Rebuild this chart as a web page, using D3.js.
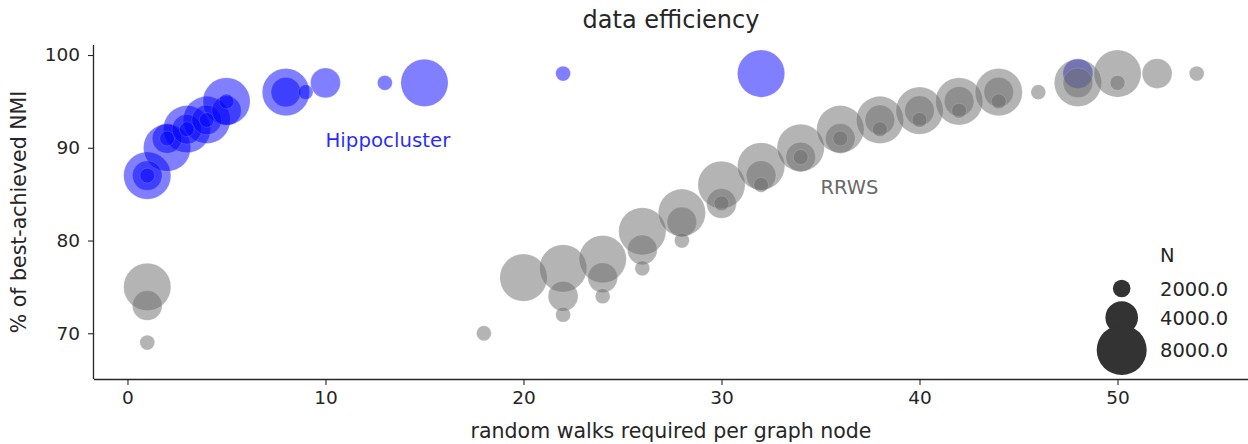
<!DOCTYPE html>
<html>
<head>
<meta charset="utf-8">
<script src="https://cdn.jsdelivr.net/npm/d3@7"></script>
<style>
  html, body { margin: 0; padding: 0; background: #fff; }
  svg { display: block; font-family: "DejaVu Sans", sans-serif; }
</style>
</head>
<body>
<svg id="chart" width="1248" height="444"></svg>
<script>
// ---------- data ----------
const seriesNames = ["Hippocluster", "RRWS"];
const sizeLevels = [2000, 4000, 8000];

// Hippocluster
const hippoX8000 = [1, 2, 3, 4, 5, 8, 15, 32];
const hippoY8000 = [87, 90, 92, 93, 95, 96, 97, 98];
const hippoX4000 = [1, 2, 3, 4, 5, 8, 10, 48];
const hippoY4000 = [87, 91, 92, 93, 94, 96, 97, 98];
const hippoX2000 = [1, 2, 3, 4, 5, 9, 13, 22];
const hippoY2000 = [87, 91, 92, 93, 95, 96, 97, 98];

// RRWS
const rrwsX8000 = [1, 20, 22, 24, 26, 28, 30, 32, 34, 36, 38, 40, 42, 44, 48, 50];
const rrwsY8000 = [75, 76, 77, 78, 81, 83, 86, 88, 90, 92, 93, 94, 95, 96, 97, 98];
const rrwsX4000 = [1, 22, 24, 26, 28, 30, 32, 34, 36, 38, 40, 42, 44, 48, 52];
const rrwsY4000 = [73, 74, 76, 79, 82, 84, 87, 89, 91, 93, 94, 95, 96, 97, 98];
const rrwsX2000 = [1, 18, 22, 24, 26, 28, 30, 32, 34, 36, 38, 40, 42, 44, 46, 50, 54];
const rrwsY2000 = [69, 70, 72, 74, 77, 80, 84, 86, 89, 91, 92, 93, 94, 95, 96, 97, 98];

const xTicks = [0, 10, 20, 30, 40, 50];
const yTicks = [70, 80, 90, 100];

// ---------- build records ----------
function rows(series, n, xs, ys) {
  return xs.map((x, i) => ({ series, n, x, y: ys[i] }));
}
const points = [].concat(
  rows("Hippocluster", 8000, hippoX8000, hippoY8000),
  rows("Hippocluster", 4000, hippoX4000, hippoY4000),
  rows("Hippocluster", 2000, hippoX2000, hippoY2000),
  rows("RRWS", 8000, rrwsX8000, rrwsY8000),
  rows("RRWS", 4000, rrwsX4000, rrwsY4000),
  rows("RRWS", 2000, rrwsX2000, rrwsY2000)
);

// ---------- layout ----------
const L = 94, R = 1248, T = 45, B = 379;
const svg = d3.select("#chart");
const ink = "#262626";

const x = d3.scaleLinear().domain([-1.69, 56.59]).range([L, R]);
const y = d3.scaleLinear().domain([65.07, 101.08]).range([B, T]);

const color = d3.scaleOrdinal().domain(seriesNames).range(["#0000ff", "#696969"]);
const area = d3.scaleLinear().domain([2000, 8000]).range([Math.PI * 7.4 * 7.4, Math.PI * 23.6 * 23.6]);
const radius = n => Math.sqrt(area(n) / Math.PI);

// ---------- points ----------
svg.append("g")
  .selectAll("circle")
  .data(points)
  .join("circle")
  .attr("cx", d => x(d.x))
  .attr("cy", d => y(d.y))
  .attr("r", d => radius(d.n))
  .attr("fill", d => color(d.series))
  .attr("fill-opacity", 0.5)
  .attr("stroke", "#ffffff")
  .attr("stroke-opacity", 0.25)
  .attr("stroke-width", 0.6);

// ---------- axes ----------
const xAxis = d3.axisBottom(x).tickValues(xTicks).tickSize(6).tickPadding(6).tickFormat(d3.format("d"));
const gx = svg.append("g").attr("transform", `translate(0,${B})`).call(xAxis);
gx.select(".domain").attr("stroke", ink).attr("stroke-width", 1.3);
gx.selectAll(".tick line").attr("stroke", ink).attr("stroke-width", 1.1);
gx.selectAll(".tick text").attr("fill", ink).attr("font-size", 18.5).attr("font-family", "DejaVu Sans");

const yAxis = d3.axisLeft(y).tickValues(yTicks).tickSize(6).tickPadding(8).tickFormat(d3.format("d"));
const gy = svg.append("g").attr("transform", `translate(${L},0)`).call(yAxis);
gy.select(".domain").attr("stroke", ink).attr("stroke-width", 1.3);
gy.selectAll(".tick line").attr("stroke", ink).attr("stroke-width", 1.1);
gy.selectAll(".tick text").attr("fill", ink).attr("font-size", 18.5).attr("font-family", "DejaVu Sans");

// matplotlib-style spines without overhang
gx.select(".domain").attr("d", `M${L},0.5H${R}`);
gy.select(".domain").attr("d", `M-0.5,${B}V${T}`);

// ---------- texts ----------
svg.append("text")
  .attr("x", 671).attr("y", 28)
  .attr("text-anchor", "middle")
  .attr("font-size", 24).attr("fill", ink)
  .text("data efficiency");

svg.append("text")
  .attr("x", (L + R) / 2).attr("y", 438)
  .attr("text-anchor", "middle")
  .attr("font-size", 20.5).attr("fill", ink)
  .text("random walks required per graph node");

svg.append("text")
  .attr("transform", `translate(26,${(T + B) / 2}) rotate(-90)`)
  .attr("text-anchor", "middle")
  .attr("font-size", 20.5).attr("fill", ink)
  .text("% of best-achieved NMI");

// series annotations
svg.append("text")
  .attr("x", x(10)).attr("y", y(90) - 1)
  .attr("font-size", 19.8).attr("fill", "#0000ff").attr("fill-opacity", 0.85)
  .text("Hippocluster");

svg.append("text")
  .attr("x", x(35)).attr("y", y(85))
  .attr("font-size", 19.5).attr("fill", "#696969")
  .text("RRWS");

// ---------- size legend ----------
const lg = svg.append("g");
lg.append("text")
  .attr("x", 1160).attr("y", 262)
  .attr("font-size", 19.5).attr("fill", ink)
  .text("N");
const legendCyMap = d3.scaleOrdinal().domain(sizeLevels).range([288.5, 317.5, 350]);
const entries = lg.selectAll("g.entry").data(sizeLevels).join("g").attr("class", "entry");
entries.append("circle")
  .attr("cx", 1121.7)
  .attr("cy", d => legendCyMap(d))
  .attr("r", d => radius(d) + 1.4)
  .attr("fill", "#333333");
entries.append("text")
  .attr("x", 1160)
  .attr("y", d => legendCyMap(d))
  .attr("dy", "0.36em")
  .attr("font-size", 19.5).attr("fill", ink)
  .text(d => d3.format(".1f")(d));
</script>
</body>
</html>
